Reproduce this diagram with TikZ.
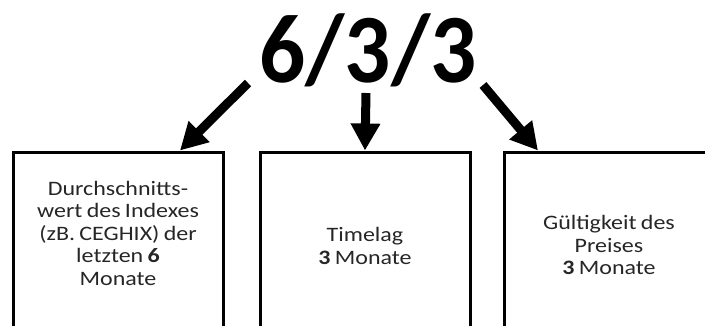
\documentclass[tikz,border=0pt]{standalone}
\usepackage{fontspec}
\setmainfont{Carlito}
\newfontfamily\boxfont[FakeStretch=1.17, WordSpace=0.8]{Carlito}
\newfontfamily\titlefont[FakeStretch=0.93]{Carlito}
\usetikzlibrary{arrows.meta, positioning}

\tikzset{
	box/.style={draw, line width=3pt, minimum width=210pt, minimum height=200pt, inner sep=0pt},
	boxtext/.style={align=center, text=black!85, font=\boxfont\fontsize{20.5pt}{22.5pt}\selectfont},
	bigarrow/.style={line width=9pt, -{Triangle[length=27pt, width=28pt]}}
}

\begin{document}
\begin{tikzpicture}[x=1pt, y=-1pt]
			\useasboundingbox (0,0) rectangle (705,325);
			\clip (0,0) rectangle (705,325);
			
			% Title
			\node[anchor=base, inner sep=0pt, font=\titlefont\bfseries\fontsize{98pt}{98pt}\selectfont] (title) at (368,82) {6/3/3};
			
			% Boxes
			\node[box] (box1) at (118,252) {};
			\node[box] (box2) at (365,252) {};
			\node[box] (box3) at (609,252) {};
			
			% Texts
			\node[boxtext] (txt1) at ([yshift=19pt]box1.center) {Durchschnitts-\\wert des Indexes\\(zB. CEGHIX) der\\letzten \textbf{6}\\Monate};
			\node[boxtext] (txt2) at ([yshift=6pt]box2.center) {Timelag\\\textbf{3} Monate};
			\node[boxtext] (txt3) at ([yshift=7pt]box3.center) {Gültigkeit des\\Preises\\\textbf{3} Monate};
			
			% Arrows
			\draw[bigarrow] ([xshift=-120pt, yshift=-1pt]title.base) -- ([xshift=62pt]box1.north);
			\draw[bigarrow] ([xshift=-2pt, yshift=-11pt]title.base) -- (box2.north);
			\draw[bigarrow] ([xshift=115pt, yshift=-3pt]title.base) -- ([xshift=-71pt]box3.north);
		\end{tikzpicture}
\end{document}
